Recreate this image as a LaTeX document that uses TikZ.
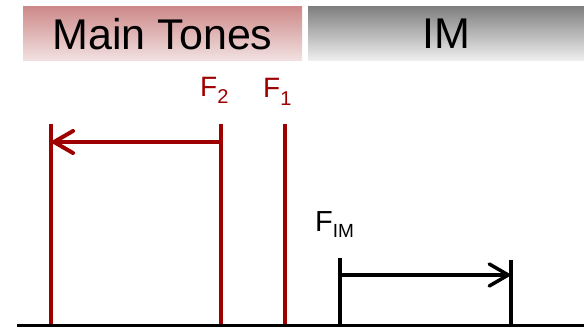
\documentclass[tikz,border=0pt]{standalone}
\usepackage{fontspec}
\setmainfont{Liberation Sans}
\usetikzlibrary{arrows.meta}
\definecolor{tonered}{RGB}{158,0,0}
\definecolor{pinktop}{RGB}{206,138,138}
\definecolor{pinkbot}{RGB}{242,226,226}
\definecolor{graytop}{RGB}{128,128,128}
\definecolor{graybot}{RGB}{240,240,240}
\tikzset{
  hdr/.style={draw=none, inner sep=0pt, minimum height=54pt,
    font=\fontsize{43}{43}\selectfont, text=black},
  redline/.style={draw=tonered, line width=4pt},
  blkline/.style={draw=black, line width=3.5pt},
  redlbl/.style={inner sep=0pt, anchor=base west, text=tonered,
    font=\fontsize{28}{28}\selectfont},
  blklbl/.style={inner sep=0pt, anchor=base west, text=black,
    font=\fontsize{29}{29}\selectfont},
  chev/.style={-{Straight Barb[length=19pt,width=22pt,line cap=round,line join=round]}}
}
\begin{document}
\begin{tikzpicture}[x=1pt,y=-1pt]
\useasboundingbox (0,0) rectangle (584,328);
% header boxes
\node[hdr, minimum width=279pt, top color=pinktop, bottom color=pinkbot] (mt) at (162.5,34) {Main Tones};
\node[hdr, minimum width=276pt, top color=graytop, bottom color=graybot] (im) at (446,34) {IM};
% coordinates
\coordinate (base0) at (17,326);
\coordinate (base1) at (584,326);
\coordinate (l0) at (51,124);   \coordinate (l1) at (51,326);
\coordinate (f20) at (221,124); \coordinate (f21) at (221,326);
\coordinate (f10) at (285,124); \coordinate (f11) at (285,326);
\coordinate (i0) at (340,258);  \coordinate (i1) at (340,326);
\coordinate (j0) at (511,260);  \coordinate (j1) at (511,326);
\coordinate (ra0) at (221,142); \coordinate (ra1) at (52,142);
\coordinate (ba0) at (340,275); \coordinate (ba1) at (510,275);
% lines
\draw[redline] (l0) -- (l1);
\draw[redline] (f20) -- (f21);
\draw[redline] (f10) -- (f11);
\draw[blkline] (i0) -- (i1);
\draw[blkline] (j0) -- (j1);
\draw[redline, chev] (ra0) -- (ra1);
\draw[blkline, chev] (ba0) -- (ba1);
\draw[black, line width=3pt] (base0) -- (base1);
% labels
\node[redlbl] (f2) at (200,97) {F{\fontsize{20}{20}\selectfont\raisebox{-7pt}{2}}};
\node[redlbl] (f1) at (263,98) {F{\fontsize{20}{20}\selectfont\raisebox{-8pt}{1}}};
\node[blklbl] (fim) at (315,232) {F{\fontsize{19}{19}\selectfont\raisebox{-6pt}{IM}}};
\end{tikzpicture}
\end{document}
